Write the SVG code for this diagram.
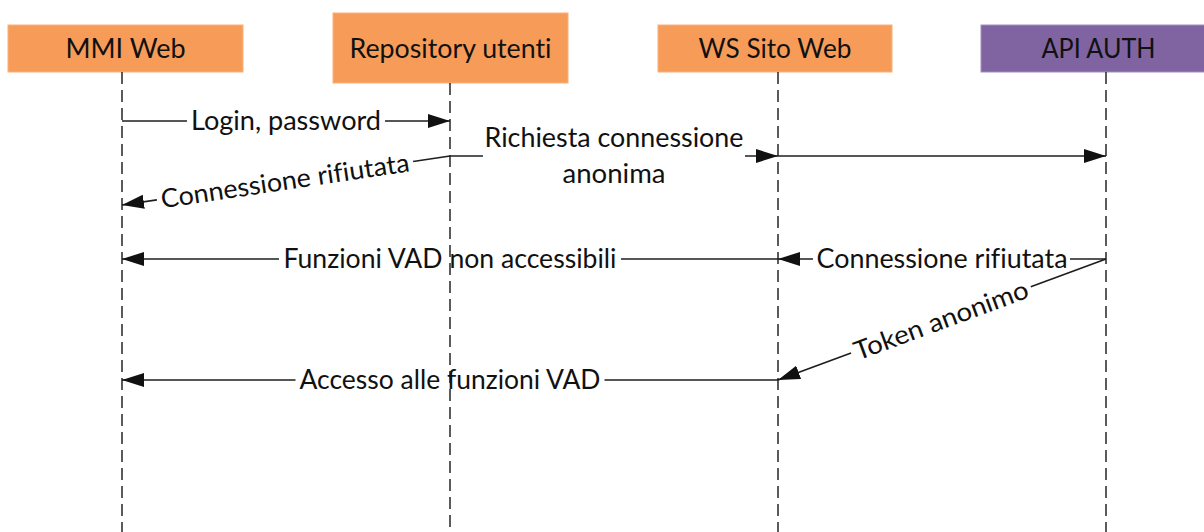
<svg xmlns="http://www.w3.org/2000/svg" width="1204" height="532" viewBox="0 0 1204 532">
  <style>
    .box-o { fill: #F69C58; stroke: #F8B27C; stroke-width: 1; }
    .box-p { fill: #7F64A1; stroke: #A28FBE; stroke-width: 1; }
    .lbl { font-family: Lato, "Liberation Sans", sans-serif; font-size: 26px; fill: #111; text-anchor: middle; font-variant-ligatures: none; font-feature-settings: "liga" 0, "clig" 0; }
    .life { stroke: #262626; stroke-width: 1.5; stroke-dasharray: 12 6; fill: none; }
    .msg { stroke: #1e1e1e; stroke-width: 1.7; fill: none; }
  </style>
  <defs>
    <marker id="arr" markerUnits="userSpaceOnUse" markerWidth="24" markerHeight="16" refX="22" refY="7" orient="auto">
      <path d="M0,0 L22,7 L0,14 z" fill="#111"/>
    </marker>
  </defs>
  <rect width="1204" height="532" fill="#ffffff"/>

  <g id="node-mmi">
    <rect class="box-o" x="8" y="25" width="235" height="47"/>
    <text class="lbl" x="125.5" y="57.5" textLength="120" lengthAdjust="spacingAndGlyphs">MMI Web</text>
    <line class="life" x1="122" y1="72" x2="122" y2="532"/>
  </g>
  <g id="node-repo">
    <rect class="box-o" x="333" y="13" width="235" height="70"/>
    <text class="lbl" x="450.5" y="57.5" textLength="202" lengthAdjust="spacingAndGlyphs">Repository utenti</text>
    <line class="life" x1="450" y1="83" x2="450" y2="532"/>
  </g>
  <g id="node-ws">
    <rect class="box-o" x="658" y="25" width="234" height="47"/>
    <text class="lbl" x="775" y="57.5" textLength="153" lengthAdjust="spacingAndGlyphs">WS Sito Web</text>
    <line class="life" x1="778" y1="72" x2="778" y2="532"/>
  </g>
  <g id="node-api">
    <rect class="box-p" x="981" y="25" width="235" height="47"/>
    <text class="lbl" x="1098.5" y="57.5" textLength="114" lengthAdjust="spacingAndGlyphs">API AUTH</text>
    <line class="life" x1="1106" y1="72" x2="1106" y2="532"/>
  </g>

  <g id="connectors">
    <!-- Login, password -->
    <path class="msg" d="M122,121 H187"/>
    <path class="msg" d="M385,121 H450" marker-end="url(#arr)"/>
    <text class="lbl" x="286" y="130.3" textLength="190" lengthAdjust="spacingAndGlyphs">Login, password</text>

    <!-- Richiesta connessione anonima -->
    <path class="msg" d="M450,156 H483"/>
    <path class="msg" d="M745,156 H778" marker-end="url(#arr)"/>
    <text class="lbl" x="614" y="147" textLength="259" lengthAdjust="spacingAndGlyphs">Richiesta connessione</text>
    <text class="lbl" x="614" y="182.5" textLength="103" lengthAdjust="spacingAndGlyphs">anonima</text>

    <!-- WS -> API -->
    <path class="msg" d="M778,156 H1106" marker-end="url(#arr)"/>

    <!-- Connessione rifiutata (Repository -> MMI, slanted) -->
    <path class="msg" d="M450,156 L413.1,161.5"/>
    <path class="msg" d="M156.9,199.8 L122,205" marker-end="url(#arr)"/>
    <text class="lbl" transform="translate(285,180.6) rotate(-8.5)" x="0" y="9.3" textLength="251" lengthAdjust="spacingAndGlyphs">Connessione rifiutata</text>

    <!-- Connessione rifiutata (API -> WS) -->
    <path class="msg" d="M1106,259 H1070"/>
    <path class="msg" d="M813,259 H778" marker-end="url(#arr)"/>
    <text class="lbl" x="942" y="268.3" textLength="251" lengthAdjust="spacingAndGlyphs">Connessione rifiutata</text>

    <!-- Funzioni VAD non accessibili (WS -> MMI) -->
    <path class="msg" d="M778,259 H621"/>
    <path class="msg" d="M279,259 H122" marker-end="url(#arr)"/>
    <text class="lbl" x="450" y="268.3" textLength="333" lengthAdjust="spacingAndGlyphs">Funzioni VAD non accessibili</text>

    <!-- Token anonimo (API -> WS, slanted) -->
    <path class="msg" d="M1106,259 L1030.8,286.8"/>
    <path class="msg" d="M851.1,353 L778,380" marker-end="url(#arr)"/>
    <text class="lbl" transform="translate(941,320) rotate(-20.25)" x="0" y="9.3" textLength="184" lengthAdjust="spacingAndGlyphs">Token anonimo</text>

    <!-- Accesso alle funzioni VAD (WS -> MMI) -->
    <path class="msg" d="M778,380 H604.5"/>
    <path class="msg" d="M295.5,380 H122" marker-end="url(#arr)"/>
    <text class="lbl" x="450" y="389.3" textLength="301" lengthAdjust="spacingAndGlyphs">Accesso alle funzioni VAD</text>
  </g>
</svg>
